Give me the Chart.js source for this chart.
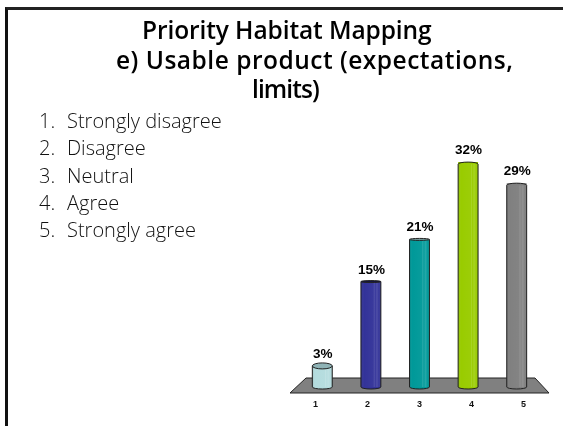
<!DOCTYPE html>
<html>
<head>
<meta charset="utf-8">
<script src="https://cdn.jsdelivr.net/npm/chart.js@4"></script>
<style>
  html, body { margin: 0; padding: 0; background: #fff; }
  #slide { position: relative; width: 563px; height: 426px; overflow: hidden; }
  #frame { position: absolute; left: 5px; top: 7px; width: 570px; height: 430px; box-sizing: border-box; border: 3px solid #111; border-top-color: #222; }
  canvas { position: absolute; left: 0; top: 0; }
  .t { position: absolute; white-space: nowrap; color: #000; line-height: 0; }
  .titulo { font-family: "Open Sans", sans-serif; font-weight: 600; font-size: 24.5px; }
  .item { font-family: "Open Sans", sans-serif; font-weight: 300; font-size: 20px; color: #111; }
</style>
</head>
<body>
<div id="slide">
  <div id="frame"></div>
  <canvas id="chart" width="563" height="426"></canvas>
  <div id="textos"></div>
</div>
<script>
const categorias = ['1', '2', '3', '4', '5'];
const valores = [3, 15, 21, 32, 29];
const colores = ['#b4dcde', '#333399', '#009999', '#99cc00', '#808080'];
const coloresTapa = ['#8fb3b6', '#14143c', '#7fa8a8', '#99cc00', '#808080'];
const curvaTapa = [3, 1, 1, -2, -2];
const tituloLineas = ['Priority Habitat Mapping', 'e) Usable product (expectations,', 'limits)'];
const opciones = ['Strongly disagree', 'Disagree', 'Neutral', 'Agree', 'Strongly agree'];

// texto de la diapositiva
const textos = document.getElementById('textos');
const xTitulo = [142, 116, 252];
const yTitulo = [40, 70, 99];
const espacioTitulo = [-0.1, 0.5, -0.9];
tituloLineas.forEach((linea, i) => {
  const d = document.createElement('div');
  d.className = 't titulo';
  d.textContent = linea;
  d.style.left = xTitulo[i] + 'px';
  d.style.top = (yTitulo[i] - 0.388 * 24.5) + 'px';
  d.style.letterSpacing = espacioTitulo[i] + 'px';
  textos.appendChild(d);
});
opciones.forEach((op, i) => {
  const top = 129 + i * 27.2 - 0.388 * 20;
  const n = document.createElement('div');
  n.className = 't item';
  n.textContent = (i + 1) + '.';
  n.style.left = '39px';
  n.style.top = top + 'px';
  textos.appendChild(n);
  const d = document.createElement('div');
  d.className = 't item';
  d.textContent = op;
  d.style.left = '67px';
  d.style.top = top + 'px';
  textos.appendChild(d);
});

// piso gris, cilindros y etiquetas
const cilindros = {
  id: 'cilindros',
  beforeDatasetsDraw(chart) {
    const { ctx, chartArea: a, scales } = chart;
    const base = scales.y.getPixelForValue(0);
    ctx.save();
    ctx.beginPath();
    ctx.moveTo(a.left + 8, base - 9);
    ctx.lineTo(a.right - 6, base - 9);
    ctx.lineTo(a.right + 8, base + 6);
    ctx.lineTo(a.left - 8, base + 6);
    ctx.closePath();
    ctx.fillStyle = '#808080';
    ctx.fill();
    ctx.strokeStyle = '#222';
    ctx.lineWidth = 1;
    ctx.stroke();
    // numeros del eje, abiertos por la perspectiva
    const centro = (a.left + a.right) / 2;
    ctx.fillStyle = '#111';
    ctx.font = 'bold 9px "Liberation Sans", Arial, sans-serif';
    ctx.textAlign = 'center';
    ctx.textBaseline = 'middle';
    categorias.forEach((c, i) => {
      const x = scales.x.getPixelForValue(i);
      ctx.fillText(c, centro + (x - centro) * 1.07, base + 18);
    });
    ctx.restore();
  },
  afterDatasetsDraw(chart) {
    const { ctx, scales } = chart;
    const base = scales.y.getPixelForValue(0);
    chart.getDatasetMeta(0).data.forEach((el, i) => {
      const rx = el.width / 2;
      const left = el.x - rx;
      const right = el.x + rx;
      const arco = -curvaTapa[i];
      const yLado = arco > 0 ? el.y + arco : el.y;
      ctx.save();
      // fondo redondo
      ctx.beginPath();
      ctx.ellipse(el.x, base, rx, 2, 0, 0, Math.PI);
      ctx.fillStyle = colores[i];
      ctx.fill();
      ctx.strokeStyle = '#222';
      ctx.lineWidth = 1;
      ctx.stroke();
      // brillo del cilindro
      const g = ctx.createLinearGradient(left, 0, right, 0);
      g.addColorStop(0, 'rgba(0,0,0,0.12)');
      g.addColorStop(0.15, 'rgba(255,255,255,0)');
      g.addColorStop(0.62, 'rgba(255,255,255,0.03)');
      g.addColorStop(0.66, 'rgba(255,255,255,0.16)');
      g.addColorStop(0.72, 'rgba(255,255,255,0.03)');
      g.addColorStop(0.8, 'rgba(255,255,255,0.14)');
      g.addColorStop(0.9, 'rgba(255,255,255,0.02)');
      g.addColorStop(1, 'rgba(0,0,0,0.18)');
      ctx.fillStyle = g;
      ctx.fillRect(left, yLado, el.width, base - yLado);
      // lados
      ctx.beginPath();
      ctx.moveTo(left, yLado);
      ctx.lineTo(left, base);
      ctx.moveTo(right, yLado);
      ctx.lineTo(right, base);
      ctx.stroke();
      // tapa
      ctx.beginPath();
      if (curvaTapa[i] > 0) {
        ctx.ellipse(el.x, el.y, rx, curvaTapa[i], 0, 0, Math.PI * 2);
      } else {
        ctx.ellipse(el.x, yLado, rx, arco, 0, Math.PI, Math.PI * 2);
      }
      ctx.fillStyle = coloresTapa[i];
      ctx.fill();
      ctx.stroke();
      // etiqueta
      ctx.fillStyle = '#000';
      ctx.font = 'bold 13.5px "Liberation Sans", Arial, sans-serif';
      ctx.textAlign = 'center';
      ctx.textBaseline = 'alphabetic';
      ctx.fillText(valores[i] + '%', el.x + 0.5, el.y - 8);
      ctx.restore();
    });
  }
};

new Chart(document.getElementById('chart'), {
  type: 'bar',
  data: {
    labels: categorias,
    datasets: [{
      data: valores,
      backgroundColor: colores,
      barPercentage: 1,
      categoryPercentage: 0.41
    }]
  },
  options: {
    responsive: false,
    animation: false,
    layout: { padding: { left: 298, right: 22, top: 141, bottom: 39 } },
    plugins: { legend: { display: false }, tooltip: { enabled: false } },
    scales: {
      x: { display: false },
      y: { display: false, min: 0, max: 35 }
    }
  },
  plugins: [cilindros]
});
</script>
</body>
</html>
